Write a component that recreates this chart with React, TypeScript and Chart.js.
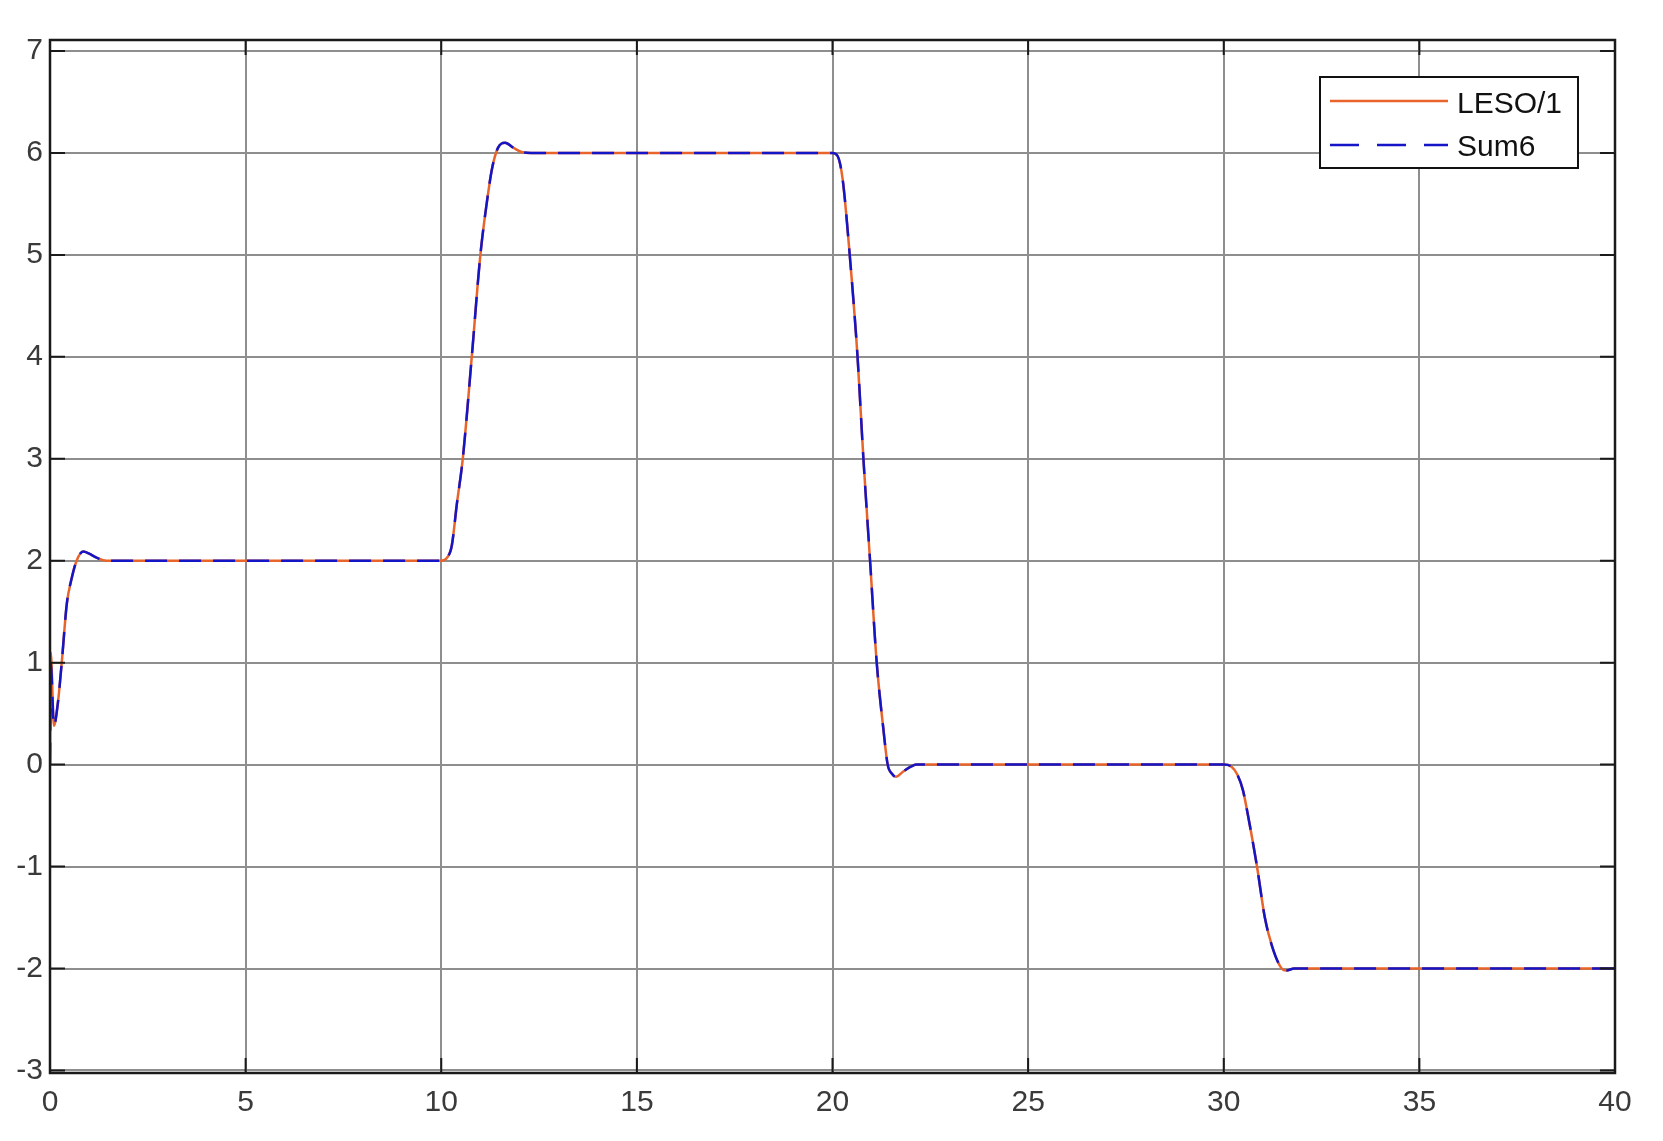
import React, { useEffect, useRef } from "react";
import { Chart, registerables } from "chart.js";

Chart.register(...registerables);

// Time samples (s)
const time = [
  0, 0.02, 0.1, 0.2, 0.3, 0.43, 0.55, 0.68, 0.85, 1.0, 1.19, 1.45,
  10.0, 10.15, 10.27, 10.4, 10.55, 10.78, 11.0, 11.16, 11.3, 11.45, 11.63, 11.85, 12.05, 12.3,
  20.0, 20.13, 20.26, 20.44, 20.64, 20.79, 20.96, 21.13, 21.3, 21.41, 21.52, 21.62, 21.8, 22.0, 22.14,
  30.0, 30.2, 30.35, 30.49, 30.62, 30.85, 31.05, 31.25, 31.48, 31.6, 31.8, 40,
];

// LESO/1 values
const leso = [
  0, 1.1, 0.38, 0.6, 1.0, 1.58, 1.82, 2.0, 2.09, 2.07, 2.03, 2.0,
  2.0, 2.03, 2.15, 2.56, 3.0, 4.0, 5.0, 5.5, 5.85, 6.05, 6.1, 6.05, 6.01, 6.0,
  6.0, 5.97, 5.74, 5.0, 4.0, 3.0, 2.0, 1.0, 0.35, 0.0, -0.09, -0.12, -0.07, -0.02, 0.0,
  0.0, -0.02, -0.1, -0.25, -0.5, -1.0, -1.5, -1.8, -2.0, -2.02, -2.0, -2.0,
];

// Sum6 values
const sum6 = [
  0, 1.0, 0.38, 0.6, 1.0, 1.58, 1.82, 2.0, 2.09, 2.07, 2.03, 2.0,
  2.0, 2.03, 2.15, 2.56, 3.0, 4.0, 5.0, 5.5, 5.85, 6.05, 6.1, 6.05, 6.01, 6.0,
  6.0, 5.97, 5.74, 5.0, 4.0, 3.0, 2.0, 1.0, 0.35, 0.0, -0.09, -0.12, -0.07, -0.02, 0.0,
  0.0, -0.02, -0.1, -0.25, -0.5, -1.0, -1.5, -1.8, -2.0, -2.02, -2.0, -2.0,
];

const xTicks = [0, 5, 10, 15, 20, 25, 30, 35, 40];
const yTicks = [-3, -2, -1, 0, 1, 2, 3, 4, 5, 6, 7];
const seriesNames = ["LESO/1", "Sum6"];

const ORANGE = "#E8642A";
const BLUE = "#1515C8";
const GRID = "#8e8e8e";
const FONT = "'Liberation Sans', Arial, sans-serif";

const framePlugin = {
  id: "matlabFrame",
  afterDatasetsDraw(chart: any) {
    const { ctx, chartArea } = chart;
    const { left, right, top, bottom } = chartArea;
    const xs = chart.scales.x;
    const ys = chart.scales.y;
    ctx.save();
    ctx.strokeStyle = "#1a1a1a";
    ctx.lineWidth = 2;
    const tl = 15;
    ctx.beginPath();
    xTicks.forEach((v) => {
      const px = xs.getPixelForValue(v);
      ctx.moveTo(px, bottom);
      ctx.lineTo(px, bottom - tl);
      ctx.moveTo(px, top);
      ctx.lineTo(px, top + tl);
    });
    yTicks.forEach((v) => {
      const py = ys.getPixelForValue(v);
      ctx.moveTo(left, py);
      ctx.lineTo(left + tl, py);
      ctx.moveTo(right, py);
      ctx.lineTo(right - tl, py);
    });
    ctx.stroke();
    ctx.lineWidth = 2.5;
    ctx.strokeRect(left, top, right - left, bottom - top);

    // legend
    const lx = 1320, ly = 77, lw = 258, lh = 91;
    ctx.fillStyle = "#ffffff";
    ctx.fillRect(lx, ly, lw, lh);
    ctx.lineWidth = 2;
    ctx.strokeStyle = "#111";
    ctx.strokeRect(lx, ly, lw, lh);

    ctx.lineWidth = 2.5;
    ctx.strokeStyle = ORANGE;
    ctx.beginPath();
    ctx.moveTo(1330, 101);
    ctx.lineTo(1448, 101);
    ctx.stroke();

    ctx.strokeStyle = BLUE;
    ctx.setLineDash([29, 18]);
    ctx.beginPath();
    ctx.moveTo(1330, 145);
    ctx.lineTo(1448, 145);
    ctx.stroke();
    ctx.setLineDash([]);

    ctx.fillStyle = "#111";
    ctx.font = `30px ${FONT}`;
    ctx.textBaseline = "alphabetic";
    ctx.textAlign = "left";
    ctx.fillText(seriesNames[0], 1457, 113);
    ctx.fillText(seriesNames[1], 1457, 156);
    ctx.restore();
  },
};

export default function App() {
  const ref = useRef<HTMLCanvasElement | null>(null);

  useEffect(() => {
    if (!ref.current) return;
    const chart = new Chart(ref.current, {
      type: "line",
      data: {
        labels: time,
        datasets: [
          {
            label: seriesNames[1],
            data: time.map((t, i) => ({ x: t, y: sum6[i] })),
            borderColor: BLUE,
            borderWidth: 2.5,
            borderDash: [22, 12],
            pointRadius: 0,
            cubicInterpolationMode: "monotone",
            fill: false,
          },
          {
            label: seriesNames[0],
            data: time.map((t, i) => ({ x: t, y: leso[i] })),
            borderColor: ORANGE,
            borderWidth: 2.5,
            pointRadius: 0,
            cubicInterpolationMode: "monotone",
            fill: false,
          },
        ],
      },
      options: {
        animation: false,
        responsive: false,
        layout: { padding: { top: 40, right: 48, left: 0, bottom: 0 } },
        plugins: {
          legend: { display: false },
          tooltip: { enabled: false },
        },
        scales: {
          x: {
            type: "linear",
            min: 0,
            max: 40,
            afterFit: (s: any) => {
              s.height = 68;
            },
            afterBuildTicks: (s: any) => {
              s.ticks = xTicks.map((v) => ({ value: v }));
            },
            grid: { color: GRID, lineWidth: 2, drawTicks: false },
            border: { display: false },
            ticks: {
              color: "#3a3a3a",
              font: { family: FONT, size: 30 },
              padding: 12,
              maxRotation: 0,
              autoSkip: false,
            },
          },
          y: {
            type: "linear",
            min: -3.025,
            max: 7.108,
            afterFit: (s: any) => {
              s.width = 50;
            },
            afterBuildTicks: (s: any) => {
              s.ticks = yTicks.map((v) => ({ value: v }));
            },
            grid: { color: GRID, lineWidth: 2, drawTicks: false },
            border: { display: false },
            ticks: {
              color: "#3a3a3a",
              font: { family: FONT, size: 30 },
              padding: 7,
              autoSkip: false,
            },
          },
        },
      },
      plugins: [framePlugin],
    });
    return () => chart.destroy();
  }, []);

  return (
    <div style={{ position: "fixed", left: 0, top: 0, width: 1663, height: 1141, background: "#fff" }}>
      <canvas ref={ref} width={1663} height={1141} style={{ display: "block" }} />
    </div>
  );
}
